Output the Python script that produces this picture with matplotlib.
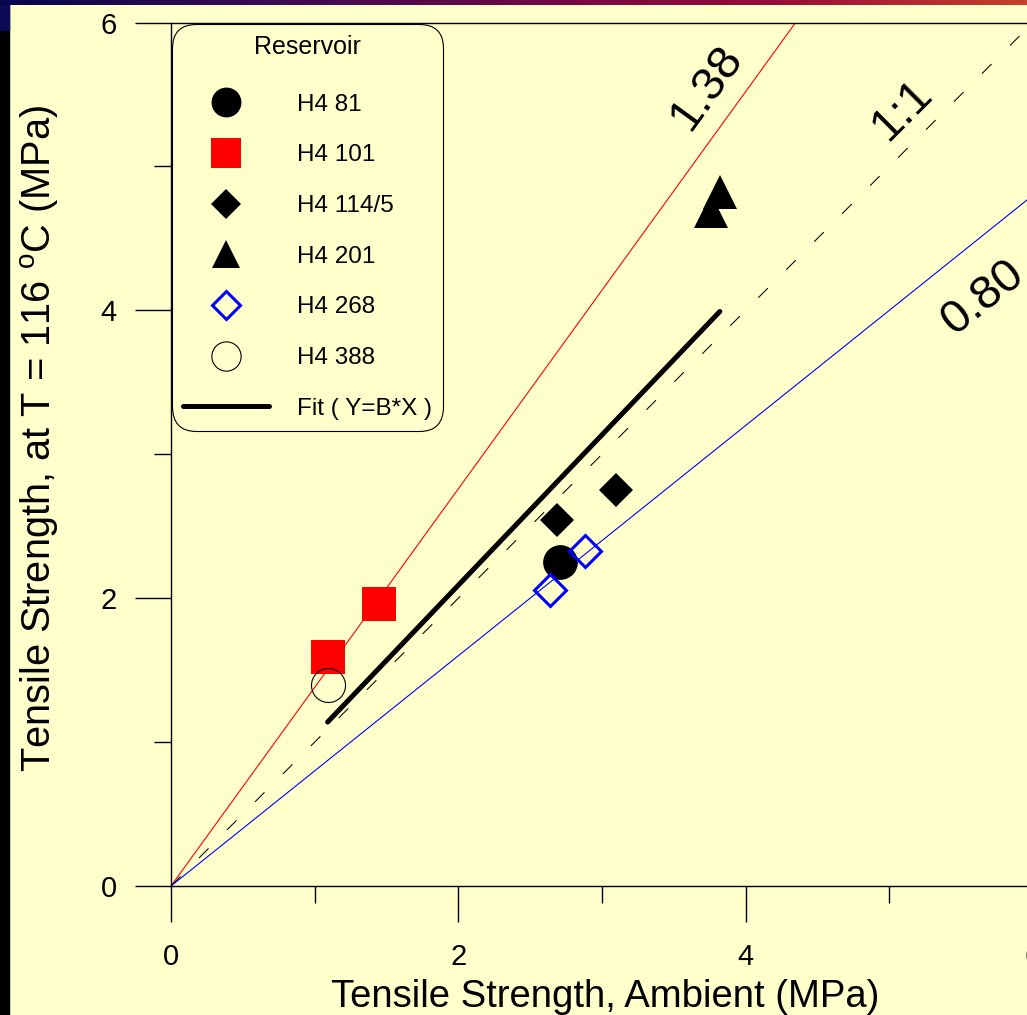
import numpy as np
import matplotlib.pyplot as plt
from matplotlib.colors import LinearSegmentedColormap
from matplotlib.patches import Rectangle

plt.rcParams['font.family'] = 'Liberation Sans'
plt.rcParams['mathtext.fontset'] = 'custom'
plt.rcParams['mathtext.rm'] = 'Liberation Sans'

# ------------------------------------------------------------------
# --------------- Data ---------------
# ------------------------------------------------------------------
h4_81_x = [2.71]
h4_81_y = [2.25]
h4_101_x = [1.09, 1.45]
h4_101_y = [1.59, 1.96]
h4_114_x = [2.69, 3.10]
h4_114_y = [2.54, 2.75]
h4_201_x = [3.76, 3.82]
h4_201_y = [4.69, 4.82]
h4_268_x = [2.64, 2.88]
h4_268_y = [2.06, 2.33]
h4_388_x = [1.09]
h4_388_y = [1.40]

fit_B = 1.045
ratio_slopes = [1.38, 1.0, 0.80]
ratio_labels = ['1.38', '1:1', '0.80']
ratio_label_x = [3.73, 5.09, 5.65]
ratio_label_y = [5.55, 5.39, 4.09]

x_ticks = [0, 2, 4, 6]
x_minor = [1, 3, 5]

# ------------------------------------------------------------------
# ----------------------- Figure layout ----------------------------
# ------------------------------------------------------------------
W, H = 1027, 1015
bg = '#FFFFCC'
fig = plt.figure(figsize=(W / 100, H / 100), dpi=100, facecolor=bg)

# slide edges: black strip on the left, gradient bar on top
fig.patches.append(Rectangle((0, 0), 9 / W, 1, transform=fig.transFigure,
                             color='black', zorder=-5))
fig.patches.append(Rectangle((0, 1 - 30 / H), 9 / W, 30 / H, transform=fig.transFigure,
                             color='#0A0A55', zorder=-4))
top = fig.add_axes([0, 1 - 5 / H, 1, 5 / H])
grad = LinearSegmentedColormap.from_list('slide', ['#06064E', '#3A0A55', '#6A0848',
                                                   '#9A0A3A', '#C8402A'])
top.imshow(np.linspace(0, 1, 512)[None, :], aspect='auto', cmap=grad)
top.axis('off')

ax = fig.add_axes([171 / W, 129 / H, 862 / W, 863.5 / H])
ax.set_facecolor(bg)
ax.set_xlim(0, 6)
ax.set_ylim(0, 6)

# -------- reference ratio lines --------
xl = np.array([0, 6])
ax.plot(xl, ratio_slopes[0] * xl, color='#FF0000', lw=0.8, zorder=1)
ax.plot(xl, ratio_slopes[1] * xl, color='black', lw=0.75, dashes=(13, 25), zorder=1)
ax.plot(xl, ratio_slopes[2] * xl, color='#0000FF', lw=0.8, zorder=1)

for s, lab, tx, ty in zip(ratio_slopes, ratio_labels, ratio_label_x, ratio_label_y):
    ax.text(tx, ty, lab, rotation=np.degrees(np.arctan(s)), rotation_mode='anchor',
            ha='center', va='center', fontsize=34)

# -------- data --------
ax.plot(h4_81_x, h4_81_y, ls='none', marker='o', ms=25, mfc='black', mew=0, label='H4 81', zorder=3)
ax.plot(h4_101_x, h4_101_y, ls='none', marker='s', ms=25, mfc='#FF0000', mew=0, label='H4 101', zorder=3)
ax.plot(h4_114_x, h4_114_y, ls='none', marker='D', ms=17.8, mfc='black', mew=0, label='H4 114/5', zorder=3)
ax.plot(h4_201_x, h4_201_y, ls='none', marker='^', ms=24, mfc='black', mew=0, label='H4 201', zorder=3)
ax.plot(h4_268_x, h4_268_y, ls='none', marker='D', ms=16.5, mfc='none', mec='#0000FF', mew=2.2,
        label='H4 268', zorder=3)
ax.plot(h4_388_x, h4_388_y, ls='none', marker='o', ms=24.5, mfc='none', mec='black', mew=0.8,
        label='H4 388', zorder=4)

# -------- fit line over the data range --------
all_x = h4_81_x + h4_101_x + h4_114_x + h4_201_x + h4_268_x + h4_388_x
fx = np.array([min(all_x), max(all_x)])
ax.plot(fx, fit_B * fx, color='black', lw=3.6, solid_capstyle='round',
        label='Fit ( Y=B*X )', zorder=2)

# -------- axes styling --------
for side in ['left', 'bottom', 'top', 'right']:
    ax.spines[side].set_linewidth(1.0)
ax.set_xticks(x_ticks)
ax.set_yticks(x_ticks)
ax.set_xticks(x_minor, minor=True)
ax.set_yticks(x_minor, minor=True)
ax.tick_params(which='major', length=26, width=1.0, direction='out', labelsize=21)
ax.tick_params(which='minor', length=12.5, width=1.0, direction='out')
ax.tick_params(axis='x', pad=15)
ax.tick_params(axis='y', pad=13)

ax.set_xlabel('Tensile Strength, Ambient (MPa)', fontsize=27.5, va='center')
ax.xaxis.set_label_coords((605 - 171) / 862, (886 - 997) / 863.5)
ax.set_ylabel(r'Tensile Strength, at T = 116 $^{\rm o}$C (MPa)', fontsize=28.6, va='center')
ax.yaxis.set_label_coords((40 - 171) / 862, (886 - 438) / 863.5)

# -------- legend --------
leg = ax.legend(loc='upper left', bbox_to_anchor=(172 / W, 1 - 24 / H),
                bbox_transform=fig.transFigure, borderaxespad=0, title='Reservoir',
                fontsize=17.5, title_fontsize=18, fancybox=True, edgecolor='black',
                facecolor=bg, framealpha=1, borderpad=0.45, labelspacing=1.18,
                handlelength=3.55, handletextpad=1.15, markerscale=0.86)
leg._legend_box.sep = 25  # a bit more room under the title
leg.get_frame().set_linewidth(0.8)
leg.get_frame().set_boxstyle('round', pad=0, rounding_size=1.0)

plt.savefig('out.png', dpi=100, facecolor=bg)
